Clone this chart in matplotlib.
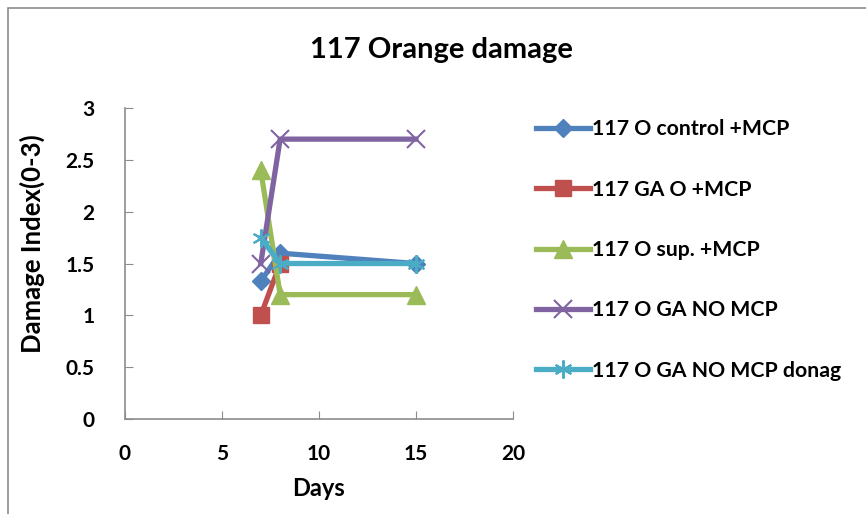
import matplotlib.pyplot as plt
from matplotlib.patches import Rectangle

# %% data
days_control = [7, 8, 15]
control_mcp = [1.33, 1.6, 1.5]
days_ga = [7, 8]
ga_mcp = [1.0, 1.5]
days_sup = [7, 8, 15]
sup_mcp = [2.4, 1.2, 1.2]
days_nomcp = [7, 8, 15]
ga_nomcp = [1.5, 2.7, 2.7]
days_donag = [7, 8, 15]
ga_nomcp_donag = [1.75, 1.5, 1.5]

labels = ['117 O control +MCP', '117 GA O +MCP', '117 O sup. +MCP',
          '117 O GA NO MCP', '117 O GA NO MCP donag']

plt.rcParams['font.family'] = ['Lato', 'DejaVu Sans']
plt.rcParams['font.weight'] = 'bold'

fig = plt.figure(figsize=(8.66, 5.14), dpi=100)
ax = fig.add_axes([0.1443, 0.1848, 0.448, 0.605])

# outer chart border
fig.patches.append(Rectangle((8 / 866, -0.1), 1.2, 1 - 8 / 514 + 0.1,
                             transform=fig.transFigure, fill=False,
                             edgecolor='#8c8c8c', linewidth=1.2))

lw = 3.8
ax.plot(days_control, control_mcp, color='#4F81BD', lw=lw, marker='D', ms=9, label=labels[0])
ax.plot(days_ga, ga_mcp, color='#C0504D', lw=lw, marker='s', ms=11, label=labels[1])
ax.plot(days_sup, sup_mcp, color='#9BBB59', lw=lw, marker='^', ms=13, label=labels[2])
ax.plot(days_nomcp, ga_nomcp, color='#8064A2', lw=lw, marker='x', ms=13, mew=1.5, label=labels[3])
ax.plot(days_donag, ga_nomcp_donag, color='#4BACC6', lw=lw, marker=(6, 2, 0), ms=13, mew=1.5, label=labels[4])

ax.set_xlim(0, 20)
ax.set_ylim(0, 3)
ax.set_xticks([0, 5, 10, 15, 20])
ax.set_yticks([0, 0.5, 1, 1.5, 2, 2.5, 3])
ax.set_yticklabels(['0', '0.5', '1', '1.5', '2', '2.5', '3'])
for s in ['top', 'right']:
    ax.spines[s].set_visible(False)
for s in ['left', 'bottom']:
    ax.spines[s].set_color('#8c8c8c')
    ax.spines[s].set_linewidth(1.2)
ax.tick_params(direction='in', length=6, color='#8c8c8c', labelsize=15)
ax.tick_params(axis='x', pad=18)
ax.tick_params(axis='y', pad=22)
for t in ax.get_xticklabels() + ax.get_yticklabels():
    t.set_fontweight('bold')

fig.suptitle('117 Orange damage', x=0.51, y=0.903, va='center', fontsize=21, fontweight='bold')
ax.set_xlabel('Days', fontsize=17, fontweight='bold', labelpad=9)
ax.set_ylabel('Damage Index(0-3)', fontsize=18.5, fontweight='bold')
ax.yaxis.set_label_coords(-0.205, 0.565)

fig.legend(loc='upper left', bbox_to_anchor=(0.597, 0.805), frameon=False,
           labelspacing=1.9, handlelength=2.55, handletextpad=0.1,
           prop={'weight': 'bold', 'size': 15.3})

fig.savefig('out.png', dpi=100)
